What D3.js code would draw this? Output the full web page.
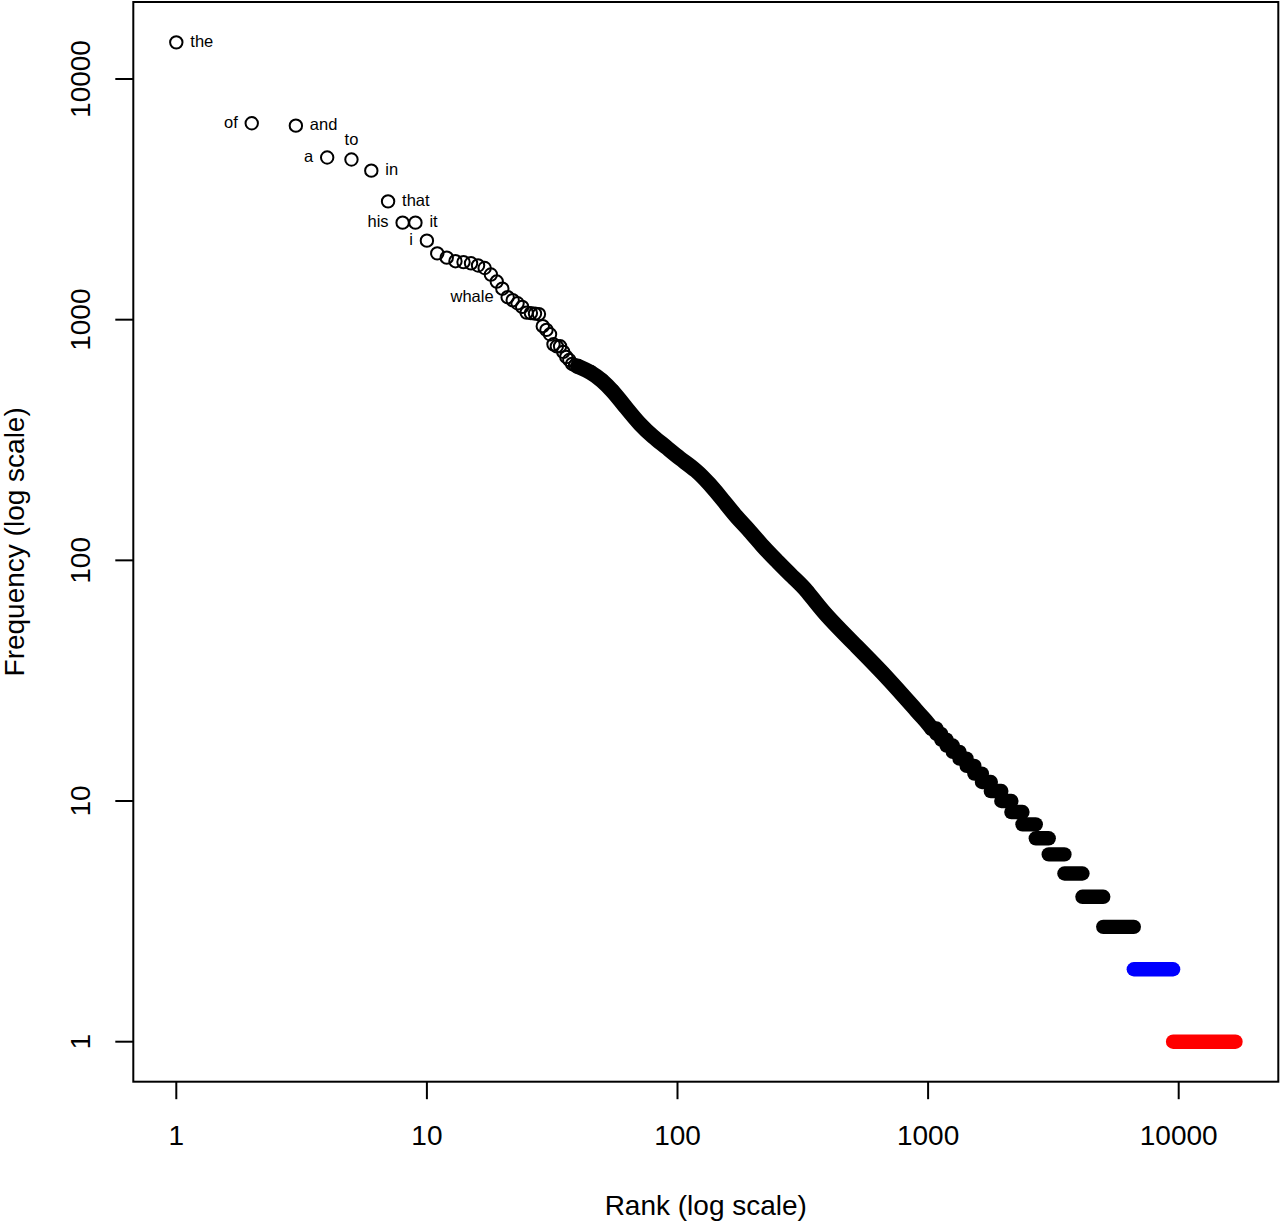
<!DOCTYPE html>
<html>
<head>
<meta charset="utf-8">
<script src="https://cdn.jsdelivr.net/npm/d3@7"></script>
<style>
  html, body { margin: 0; padding: 0; background: #fff; }
  svg { display: block; }
  text { font-family: "Liberation Sans", Arial, Helvetica, sans-serif; fill: #000; }
</style>
</head>
<body>
<svg id="chart" width="1280" height="1222"></svg>
<script>
// ---------------- data ----------------
// frequencies of the 40 most frequent words, rank 1..40
const headFreq = [14200, 6550, 6400, 4720, 4630, 4160, 3100, 2530, 2530, 2130,
                  1885, 1810, 1750, 1735, 1715, 1680, 1640, 1540, 1440, 1345,
                  1240, 1205, 1170, 1130, 1070, 1065, 1060, 1055, 940, 907,
                  870, 790, 775, 775, 735, 700, 680, 655, 645, 640];
// labelled words: rank, word, side of the point
const labelRanks = [1, 2, 3, 4, 5, 6, 7, 8, 9, 10, 21];
const labelWords = ["the", "of", "and", "a", "to", "in", "that", "his", "it", "i", "whale"];
const labelSides = ["right", "left", "right", "left", "above", "right", "right", "left", "right", "left", "left"];
// sampled rank / frequency readings along the dense middle band
const midRank = [40, 45, 50, 55, 62, 71, 80, 90, 102, 119, 134, 152, 172, 194, 219, 248, 289, 326, 379, 518, 700, 923, 1000, 1035];
const midFreq = [640, 607, 560, 507, 434, 365, 326, 296, 265, 237, 208, 178, 151, 133, 114, 100, 85, 76, 61, 44, 32, 23, 21, 20];
// low frequencies: first rank of each run of equal frequency
const runFreq  = [20, 19, 18, 17, 16, 15, 14, 13, 12, 11, 10, 9, 8, 7, 6, 5, 4, 3, 2, 1];
const runStart = [1035, 1080, 1128, 1185, 1255, 1335, 1425, 1530, 1640, 1780, 1960, 2150, 2380, 2690, 3030, 3500, 4130, 5000, 6620, 9500];
const lastRank = 16850;
// axes
const xTicks = [1, 10, 100, 1000, 10000];
const yTicks = [1, 10, 100, 1000, 10000];
const xTitle = "Rank (log scale)";
const yTitle = "Frequency (log scale)";

// ---------------- drawing ----------------
const svg = d3.select("#chart");
const box = {left: 133.3, top: 2, right: 1278.3, bottom: 1081.7};

const x = d3.scaleLog().domain([1, 10000]).range([176.3, 1178.7]);
const y = d3.scaleLog().domain([1, 10000]).range([1041.7, 79]);

const R = 6.2, SW = 2, DIAM = 2 * R + SW;
const colorFor = f => f === 1 ? "#ff0000" : (f === 2 ? "#0000ff" : "#000000");

// middle band (overlapping circles appear as a solid band)
const line = d3.line().x(d => x(d[0])).y(d => y(d[1])).curve(d3.curveBasis);
const mid = midRank.map((r, i) => [r, midFreq[i]]);
svg.append("path")
  .attr("d", line(mid))
  .attr("fill", "none").attr("stroke", "#000")
  .attr("stroke-width", DIAM + 1)
  .attr("stroke-linecap", "round").attr("stroke-linejoin", "round");
svg.append("g").selectAll("circle").data(mid.slice(0, 4)).join("circle")
  .attr("cx", d => x(d[0])).attr("cy", d => y(d[1])).attr("r", R)
  .attr("fill", "none").attr("stroke", "#000").attr("stroke-width", SW);

// runs of equal frequency
const runs = runFreq.map((f, i) => ({
  f, s: runStart[i], e: i < runStart.length - 1 ? runStart[i + 1] - 1 : lastRank
}));
svg.append("g").selectAll("line").data(runs).join("line")
  .attr("x1", d => x(d.s)).attr("x2", d => x(d.e))
  .attr("y1", d => y(d.f)).attr("y2", d => y(d.f))
  .attr("stroke", d => colorFor(d.f))
  .attr("stroke-width", DIAM).attr("stroke-linecap", "round");

// individual top words
const head = headFreq.map((f, i) => ({rank: i + 1, f}));
svg.append("g").selectAll("circle").data(head).join("circle")
  .attr("cx", d => x(d.rank)).attr("cy", d => y(d.f)).attr("r", R)
  .attr("fill", "none").attr("stroke", "#000").attr("stroke-width", SW);

// word labels
const labs = labelRanks.map((r, i) => ({r, w: labelWords[i], side: labelSides[i], f: headFreq[r - 1]}));
svg.append("g").selectAll("text").data(labs).join("text")
  .attr("font-size", 16.5)
  .attr("x", d => d.side === "right" ? x(d.r) + 14 : d.side === "left" ? x(d.r) - 14 : x(d.r))
  .attr("y", d => d.side === "above" ? y(d.f) - 14 : y(d.f) + 4.6)
  .attr("text-anchor", d => d.side === "right" ? "start" : d.side === "left" ? "end" : "middle")
  .text(d => d.w);

// plot box
svg.append("rect")
  .attr("x", box.left).attr("y", box.top)
  .attr("width", box.right - box.left).attr("height", box.bottom - box.top)
  .attr("fill", "none").attr("stroke", "#000").attr("stroke-width", 2);

// x axis ticks and labels
const gx = svg.append("g");
gx.selectAll("line").data(xTicks).join("line")
  .attr("x1", d => x(d)).attr("x2", d => x(d))
  .attr("y1", box.bottom).attr("y2", box.bottom + 17.5)
  .attr("stroke", "#000").attr("stroke-width", 2);
gx.selectAll("text").data(xTicks).join("text")
  .attr("x", d => x(d)).attr("y", 1145)
  .attr("text-anchor", "middle").attr("font-size", 28)
  .text(d => String(d));

// y axis ticks and labels
const gy = svg.append("g");
gy.selectAll("line").data(yTicks).join("line")
  .attr("x1", box.left).attr("x2", box.left - 18)
  .attr("y1", d => y(d)).attr("y2", d => y(d))
  .attr("stroke", "#000").attr("stroke-width", 2);
gy.selectAll("text").data(yTicks).join("text")
  .attr("transform", d => `translate(90,${y(d)}) rotate(-90)`)
  .attr("text-anchor", "middle").attr("font-size", 28)
  .text(d => String(d));

// titles
svg.append("text")
  .attr("x", (box.left + box.right) / 2).attr("y", 1215)
  .attr("text-anchor", "middle").attr("font-size", 28)
  .text(xTitle);
svg.append("text")
  .attr("transform", `translate(24,${(box.top + box.bottom) / 2}) rotate(-90)`)
  .attr("text-anchor", "middle").attr("font-size", 28)
  .text(yTitle);
</script>
</body>
</html>
